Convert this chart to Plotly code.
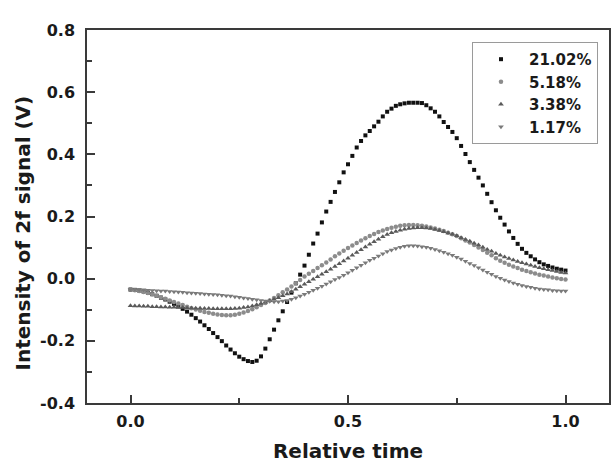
import plotly.graph_objects as go

rel_time = [0.00, 0.01, 0.02, 0.03, 0.04, 0.05, 0.06, 0.07, 0.08, 0.09,
            0.10, 0.11, 0.12, 0.13, 0.14, 0.15, 0.16, 0.17, 0.18, 0.19,
            0.20, 0.21, 0.22, 0.23, 0.24, 0.25, 0.26, 0.27, 0.28, 0.29,
            0.30, 0.31, 0.32, 0.33, 0.34, 0.35, 0.36, 0.37, 0.38, 0.39,
            0.40, 0.41, 0.42, 0.43, 0.44, 0.45, 0.46, 0.47, 0.48, 0.49,
            0.50, 0.51, 0.52, 0.53, 0.54, 0.55, 0.56, 0.57, 0.58, 0.59,
            0.60, 0.61, 0.62, 0.63, 0.64, 0.65, 0.66, 0.67, 0.68, 0.69,
            0.70, 0.71, 0.72, 0.73, 0.74, 0.75, 0.76, 0.77, 0.78, 0.79,
            0.80, 0.81, 0.82, 0.83, 0.84, 0.85, 0.86, 0.87, 0.88, 0.89,
            0.90, 0.91, 0.92, 0.93, 0.94, 0.95, 0.96, 0.97, 0.98, 0.99, 1.00]

o2_2102 = [-0.035, -0.036, -0.038, -0.041, -0.045, -0.050, -0.055, -0.061, -0.067, -0.074,
           -0.081, -0.089, -0.097, -0.106, -0.116, -0.127, -0.138, -0.150, -0.162, -0.175,
           -0.188, -0.201, -0.215, -0.228, -0.240, -0.251, -0.259, -0.265, -0.268, -0.264,
           -0.250, -0.225, -0.195, -0.164, -0.134, -0.105, -0.075, -0.045, -0.015, 0.013,
           0.042, 0.077, 0.113, 0.145, 0.181, 0.216, 0.247, 0.279, 0.310, 0.342,
           0.368, 0.395, 0.422, 0.443, 0.461, 0.475, 0.490, 0.505, 0.522, 0.537,
           0.547, 0.556, 0.561, 0.564, 0.566, 0.566, 0.566, 0.565, 0.558, 0.548,
           0.537, 0.522, 0.504, 0.488, 0.472, 0.452, 0.427, 0.401, 0.375, 0.350,
           0.325, 0.300, 0.273, 0.246, 0.220, 0.196, 0.174, 0.152, 0.131, 0.112,
           0.096, 0.083, 0.072, 0.062, 0.053, 0.046, 0.041, 0.036, 0.032, 0.029, 0.026]

o2_518 = [-0.035, -0.037, -0.040, -0.043, -0.046, -0.050, -0.055, -0.060, -0.065, -0.070,
          -0.075, -0.080, -0.085, -0.090, -0.095, -0.099, -0.103, -0.107, -0.110, -0.113,
          -0.115, -0.117, -0.118, -0.118, -0.116, -0.113, -0.109, -0.104, -0.098, -0.092,
          -0.085, -0.078, -0.070, -0.062, -0.053, -0.044, -0.035, -0.025, -0.015, -0.004,
          0.007, 0.016, 0.025, 0.034, 0.043, 0.052, 0.062, 0.072, 0.081, 0.090,
          0.099, 0.107, 0.115, 0.123, 0.130, 0.137, 0.144, 0.150, 0.155, 0.160,
          0.164, 0.167, 0.170, 0.172, 0.173, 0.173, 0.172, 0.170, 0.168, 0.165,
          0.161, 0.157, 0.153, 0.148, 0.143, 0.137, 0.130, 0.123, 0.116, 0.108,
          0.100, 0.092, 0.083, 0.075, 0.066, 0.058, 0.051, 0.045, 0.039, 0.034,
          0.029, 0.025, 0.021, 0.017, 0.013, 0.010, 0.007, 0.004, 0.001, -0.001, -0.003]

o2_338 = [-0.087, -0.088, -0.088, -0.089, -0.089, -0.090, -0.090, -0.091, -0.091, -0.092,
          -0.092, -0.093, -0.093, -0.094, -0.094, -0.095, -0.095, -0.096, -0.096, -0.097,
          -0.097, -0.097, -0.097, -0.097, -0.096, -0.095, -0.093, -0.091, -0.088, -0.084,
          -0.080, -0.076, -0.071, -0.066, -0.061, -0.055, -0.049, -0.042, -0.034, -0.026,
          -0.018, -0.010, -0.002, 0.006, 0.014, 0.022, 0.030, 0.039, 0.048, 0.057,
          0.066, 0.075, 0.084, 0.093, 0.102, 0.111, 0.119, 0.127, 0.135, 0.142,
          0.148, 0.152, 0.156, 0.159, 0.161, 0.163, 0.164, 0.164, 0.163, 0.161,
          0.158, 0.155, 0.151, 0.147, 0.143, 0.138, 0.132, 0.126, 0.120, 0.114,
          0.108, 0.101, 0.094, 0.088, 0.081, 0.075, 0.070, 0.065, 0.060, 0.055,
          0.051, 0.047, 0.043, 0.039, 0.035, 0.032, 0.029, 0.026, 0.023, 0.020, 0.018]

o2_117 = [-0.035, -0.035, -0.036, -0.036, -0.037, -0.038, -0.039, -0.040, -0.040, -0.041,
          -0.042, -0.043, -0.044, -0.045, -0.046, -0.047, -0.048, -0.049, -0.050, -0.051,
          -0.052, -0.053, -0.055, -0.056, -0.058, -0.060, -0.062, -0.064, -0.066, -0.068,
          -0.070, -0.072, -0.073, -0.074, -0.074, -0.072, -0.070, -0.066, -0.061, -0.056,
          -0.050, -0.044, -0.037, -0.031, -0.024, -0.017, -0.010, -0.003, 0.004, 0.011,
          0.019, 0.027, 0.035, 0.043, 0.051, 0.059, 0.066, 0.073, 0.080, 0.087,
          0.092, 0.097, 0.101, 0.104, 0.106, 0.106, 0.105, 0.103, 0.101, 0.098,
          0.094, 0.090, 0.085, 0.080, 0.075, 0.069, 0.063, 0.056, 0.049, 0.042,
          0.035, 0.028, 0.021, 0.014, 0.007, 0.001, -0.004, -0.009, -0.014, -0.018,
          -0.022, -0.025, -0.028, -0.031, -0.033, -0.035, -0.036, -0.038, -0.039, -0.040, -0.040]

series_names = ["21.02%", "5.18%", "3.38%", "1.17%"]
series_values = [o2_2102, o2_518, o2_338, o2_117]
x_tick_vals = [0.0, 0.5, 1.0]
x_tick_text = ["0.0", "0.5", "1.0"]
y_tick_vals = [-0.4, -0.2, 0.0, 0.2, 0.4, 0.6, 0.8]
y_tick_text = ["-0.4", "-0.2", "0.0", "0.2", "0.4", "0.6", "0.8"]
x_title = "Relative time"
y_title = "Intensity of 2f signal (V)"

styles = [
    dict(symbol="square", color="#111111", size=4),
    dict(symbol="circle", color="#8c8c8c", size=4.5),
    dict(symbol="triangle-up", color="#5a5a5a", size=5),
    dict(symbol="triangle-down", color="#7a7a7a", size=5),
]

FONT = "'DejaVu Sans', sans-serif"

fig = go.Figure()
for name, vals, st in zip(series_names, series_values, styles):
    fig.add_trace(go.Scatter(
        x=rel_time, y=vals, mode="markers", name=name,
        marker=dict(symbol=st["symbol"], color=st["color"], size=st["size"],
                    line=dict(width=0)),
    ))

axis_common = dict(
    showline=True, linecolor="#3a3a3a", linewidth=1.5, mirror=True,
    showgrid=False, zeroline=False,
    ticks="inside", ticklen=8, tickwidth=1.5, tickcolor="#3a3a3a",
    tickfont=dict(family=FONT, size=16, color="#1a1a1a", weight="bold"),
)

fig.update_xaxes(
    range=[-0.1, 1.1], tickvals=x_tick_vals, ticktext=x_tick_text,
    minor=dict(ticks="inside", ticklen=5, tickwidth=1.5, tickcolor="#3a3a3a",
               tickvals=[0.25, 0.75]),
    ticklabelstandoff=3,
    title=dict(text=x_title, font=dict(family=FONT, size=20, color="#1a1a1a", weight="bold"),
               standoff=15),
    **axis_common,
)
fig.update_yaxes(
    range=[-0.4, 0.8], tickvals=y_tick_vals, ticktext=y_tick_text,
    minor=dict(ticks="inside", ticklen=5, tickwidth=1.5, tickcolor="#3a3a3a",
               tickvals=[-0.3, -0.1, 0.1, 0.3, 0.5, 0.7]),
    ticklabelstandoff=7,
    **axis_common,
)

fig.add_annotation(
    text=y_title, textangle=-90, showarrow=False,
    xref="paper", yref="paper", x=-0.1245, y=0.4544,
    xanchor="center", yanchor="middle",
    font=dict(family=FONT, size=20, color="#1a1a1a", weight="bold"),
)

fig.update_layout(
    width=611, height=463,
    margin=dict(l=87, r=2, t=30, b=60, autoexpand=False),
    paper_bgcolor="white", plot_bgcolor="white",
    showlegend=True,
    legend=dict(
        x=0.7375, y=0.968, xanchor="left", yanchor="top",
        bgcolor="white", bordercolor="#9a9a9a", borderwidth=1,
        font=dict(family=FONT, size=15, color="#1a1a1a", weight="bold"),
        itemwidth=46, tracegroupgap=0,
    ),
)

fig.write_html("out.html")
